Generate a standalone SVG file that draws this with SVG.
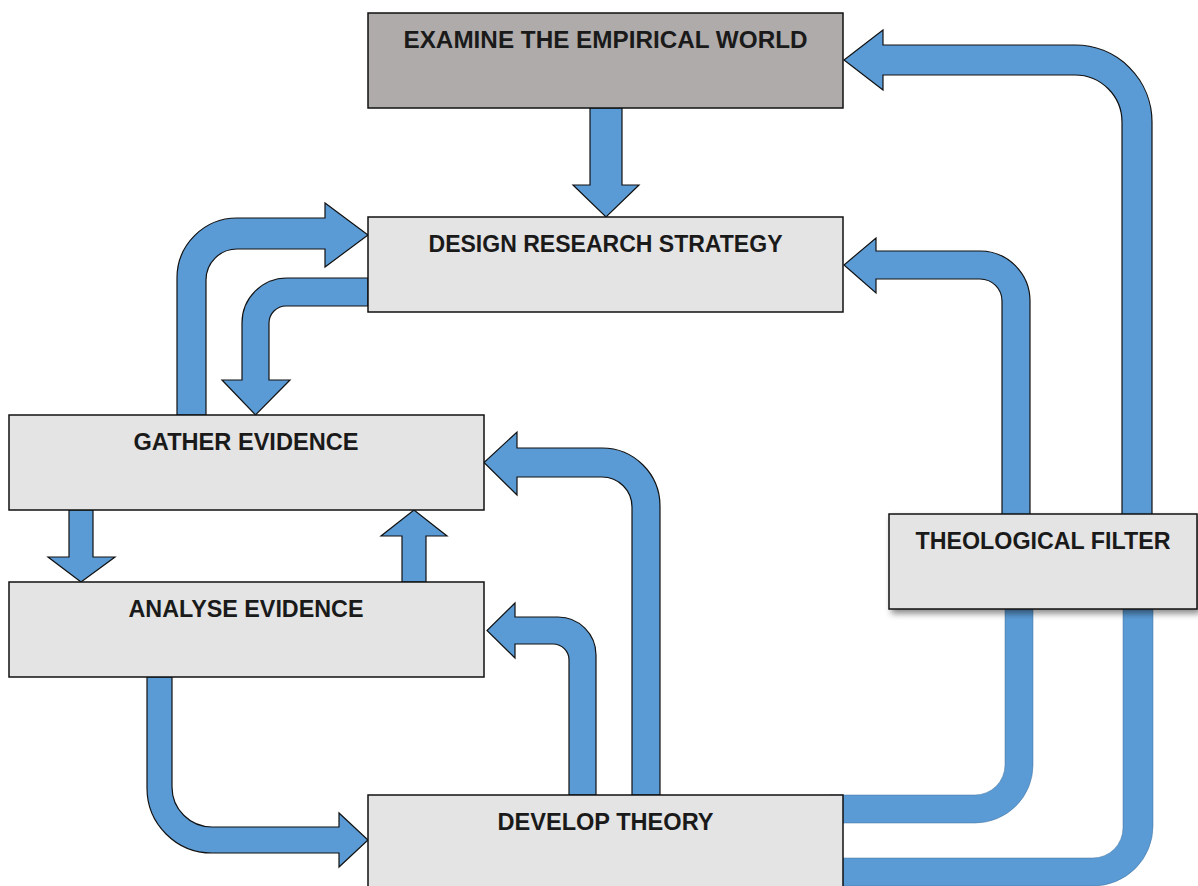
<svg xmlns="http://www.w3.org/2000/svg" width="1198" height="886" viewBox="0 0 1198 886">
  <defs>
    <filter id="shadow" x="-10%" y="-20%" width="130%" height="150%">
      <feDropShadow dx="3" dy="4" stdDeviation="3" flood-color="#000" flood-opacity="0.45"/>
    </filter>
  </defs>
  <style>
    .arrow { fill: #5B9BD5; stroke: #111; stroke-width: 1.2; stroke-linejoin: miter; }
    .arrow-soft { fill: #5B9BD5; stroke: #41719C; stroke-width: 1; stroke-opacity: 0.5; }
    .box { fill: #E4E4E4; stroke: #111; stroke-width: 1.5; }
    .box-dark { fill: #AEABAA; stroke: #111; stroke-width: 1.5; }
    .label { font-family: "Liberation Sans", Arial, sans-serif; font-weight: bold; font-size: 24px; fill: #1a1a1a; text-anchor: middle; }
  </style>
  <rect width="1198" height="886" fill="#fff"/>

  <g id="connectors">
    <!-- Examine -> Design -->
    <path class="arrow" d="M 590 108 L 622 108 L 622 185 L 639 185 L 606 217 L 573 185 L 590 185 Z"/>
    <!-- Gather -> Design -->
    <path class="arrow" d="M 177 415 L 177 278 A 60 60 0 0 1 237 218 L 325 218 L 325 203 L 368 235 L 325 267 L 325 249 L 237 249 A 31 31 0 0 0 206 280 L 206 415 Z"/>
    <!-- Design -> Gather -->
    <path class="arrow" d="M 368 278 L 287 278 A 45 45 0 0 0 242 323 L 242 380 L 222 380 L 255.5 415 L 290 380 L 269 380 L 269 323 A 17 17 0 0 1 286 306 L 368 306 Z"/>
    <!-- Gather -> Analyse -->
    <path class="arrow" d="M 69 510 L 93 510 L 93 557 L 115 557 L 81 582 L 48 557 L 69 557 Z"/>
    <!-- Analyse -> Gather -->
    <path class="arrow" d="M 402 582 L 426 582 L 426 536 L 447 536 L 414 510 L 381 536 L 402 536 Z"/>
    <!-- Analyse -> Develop -->
    <path class="arrow" d="M 147 677 L 147 788 A 65 65 0 0 0 212 853 L 339 853 L 339 867 L 368 840 L 339 813 L 339 827 L 212 827 A 40 40 0 0 1 172 787 L 172 677 Z"/>
    <!-- Develop -> Analyse -->
    <path class="arrow" d="M 596 795 L 596 655 A 38 38 0 0 0 558 617 L 515 617 L 515 603 L 487 630.5 L 515 658 L 515 644 L 553 644 A 16 16 0 0 1 569 660 L 569 795 Z"/>
    <!-- Develop -> Gather -->
    <path class="arrow" d="M 660 795 L 660 506 A 58 58 0 0 0 602 448 L 517 448 L 517 432 L 484 462.5 L 517 495 L 517 477 L 602 477 A 30 30 0 0 1 632 507 L 632 795 Z"/>
    <!-- Filter -> Design -->
    <path class="arrow" d="M 1030 560 L 1030 301 A 50 50 0 0 0 980 251 L 876 251 L 876 238 L 844 265 L 876 293 L 876 279 L 980 279 A 22 22 0 0 1 1002 301 L 1002 560 Z"/>
    <!-- Filter -> Examine -->
    <path class="arrow" d="M 1152 560 L 1152 122 A 77 77 0 0 0 1075 45 L 883 45 L 883 30 L 844 60 L 883 90 L 883 75 L 1075 75 A 47 47 0 0 1 1122 122 L 1122 560 Z"/>
    <!-- Develop -> Filter (inner) -->
    <path class="arrow-soft" d="M 830 795 L 975 795 A 30 30 0 0 0 1005 765 L 1005 560 L 1033 560 L 1033 765 A 58 58 0 0 1 975 823 L 830 823 Z"/>
    <!-- Develop -> Filter (outer) -->
    <path class="arrow-soft" d="M 830 858 L 1093 858 A 30 30 0 0 0 1123 828 L 1123 560 L 1153 560 L 1153 826 A 60 60 0 0 1 1093 886 L 830 886 Z"/>
  </g>

  <g id="examine">
    <rect class="box-dark" x="368" y="13" width="475" height="95"/>
    <text class="label" x="605.5" y="48" textLength="404" lengthAdjust="spacingAndGlyphs">EXAMINE THE EMPIRICAL WORLD</text>
  </g>
  <g id="design">
    <rect class="box" x="368" y="217" width="475" height="95"/>
    <text class="label" x="605.5" y="252" textLength="354" lengthAdjust="spacingAndGlyphs">DESIGN RESEARCH STRATEGY</text>
  </g>
  <g id="gather">
    <rect class="box" x="9" y="415" width="475" height="95"/>
    <text class="label" x="246" y="450" textLength="225" lengthAdjust="spacingAndGlyphs">GATHER EVIDENCE</text>
  </g>
  <g id="analyse">
    <rect class="box" x="9" y="582" width="475" height="95"/>
    <text class="label" x="246" y="617" textLength="235" lengthAdjust="spacingAndGlyphs">ANALYSE EVIDENCE</text>
  </g>
  <g id="develop">
    <rect class="box" x="368" y="795" width="475" height="100"/>
    <text class="label" x="605.5" y="830" textLength="216" lengthAdjust="spacingAndGlyphs">DEVELOP THEORY</text>
  </g>
  <g id="filter">
    <rect class="box" x="889" y="514" width="308" height="95" filter="url(#shadow)"/>
    <text class="label" x="1043" y="549" textLength="255" lengthAdjust="spacingAndGlyphs">THEOLOGICAL FILTER</text>
  </g>
</svg>
